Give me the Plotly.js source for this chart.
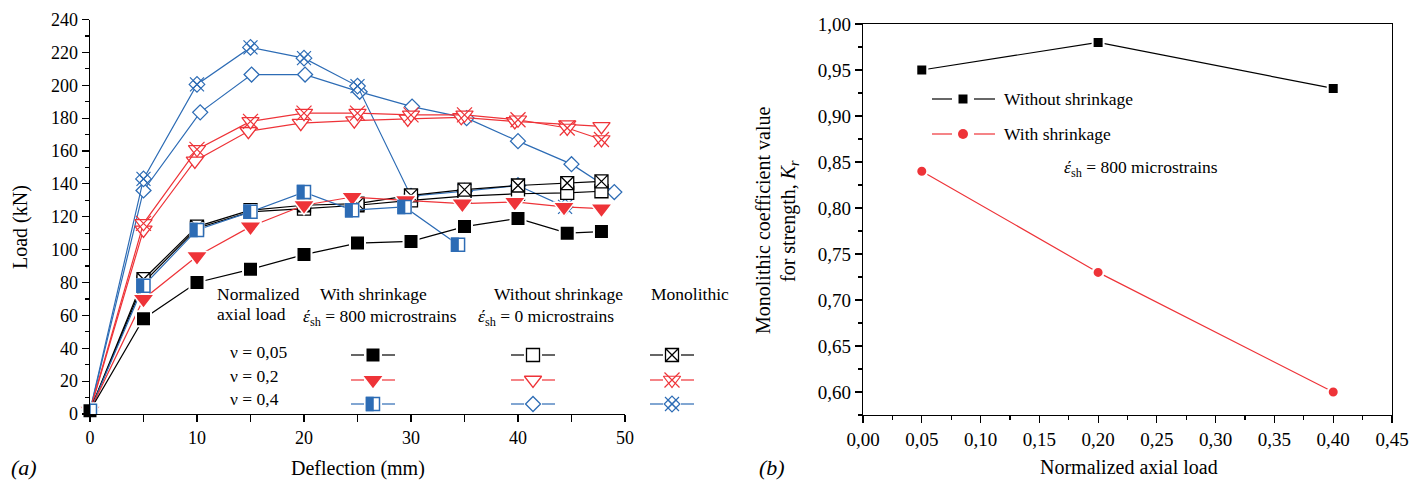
<!DOCTYPE html>
<html><head><meta charset="utf-8">
<script src="https://cdn.plot.ly/plotly-3.0.1.min.js"></script>
<style>html,body{margin:0;padding:0;background:#fff}</style>
</head><body><div id="chart" style="width:1425px;height:484px"></div>
<script>
// ---------- Data (a) Load vs deflection ----------
const withShr005X = [0, 5, 10, 15, 20, 25, 30, 35, 40, 44.6, 47.8];
const withShr005Y = [2, 58, 80, 88, 97, 104, 105, 114, 119, 110, 111];
const withShr02X  = [0, 5, 10, 15, 20, 24.5, 29.5, 34.8, 39.7, 44.3, 47.8];
const withShr02Y  = [2, 70, 96, 114, 127, 132, 130, 128, 129, 126, 125];
const withShr04X  = [0, 5, 10, 15, 20, 24.5, 29.4, 34.4];
const withShr04Y  = [2, 78, 112, 123, 135, 124, 126, 103];

const noShr005X = [0, 5, 10, 15, 20, 25, 30, 35, 40, 44.6, 47.8];
const noShr005Y = [2, 80, 113, 123, 125, 127, 130, 132.5, 134, 134.5, 135.5];
const noShr02X  = [0, 5, 9.8, 14.8, 19.7, 24.7, 29.7, 34.7, 39.7, 44.6, 47.8];
const noShr02Y  = [2, 112, 154, 172, 177, 178.5, 179.5, 180.5, 178, 176, 175];
const noShr04X  = [0, 5, 10.3, 15.1, 20.1, 25.2, 30.1, 35.2, 40, 45, 49];
const noShr04Y  = [2, 136, 183.5, 206.5, 206.5, 196, 187, 180, 166, 152, 135];

const mono005X = [0, 5, 10, 15, 20, 25, 30, 35, 40, 44.6, 47.8];
const mono005Y = [2, 82, 114, 124, 127, 128, 133, 136.5, 139, 140.5, 141.5];
const mono02X  = [0, 5, 10, 15, 20, 25, 30, 35, 40, 44.6, 47.8];
const mono02Y  = [2, 116, 161, 178, 183, 183, 182, 182, 179, 174, 167];
const mono04X  = [0, 5, 10, 15, 20, 25, 30, 35, 40, 44.4];
const mono04Y  = [2, 143, 200.5, 223, 216.5, 199.5, 132.5, 135.5, 139, 126];

// ---------- Data (b) Monolithic coefficient ----------
const axialLoad = [0.05, 0.20, 0.40];
const krWithout = [0.95, 0.98, 0.93];
const krWith    = [0.84, 0.73, 0.60];

const BLACK = '#000000', RED = '#ee3338', BLUE = '#2d6cb5';
const FONT = 'Liberation Serif';
const TXT = '#000';

const traces = [];
const shapes = [];
const annotations = [];

function line(x, y, color, marker, xa, ya) {
  traces.push({x, y, xaxis: xa || 'x', yaxis: ya || 'y', type: 'scatter', mode: marker ? 'lines+markers' : 'lines',
    line: {color, width: 1.2}, marker: marker, showlegend: false, hoverinfo: 'skip', cliponaxis: false});
}
function marks(x, y, marker, xa, ya) {
  traces.push({x, y, xaxis: xa || 'x', yaxis: ya || 'y', type: 'scatter', mode: 'markers',
    marker, showlegend: false, hoverinfo: 'skip', cliponaxis: false});
}
const mk = {
  blackSq:  {symbol: 'square', size: 15, color: BLACK, line: {color: '#fff', width: 2}},
  redTri:   {symbol: 'triangle-down', size: 19, color: RED, line: {color: '#fff', width: 1.5}},
  openSq:   {symbol: 'square', size: 13, color: '#fff', line: {color: BLACK, width: 1.3}},
  openTri:  {symbol: 'triangle-down', size: 15, color: '#fff', line: {color: RED, width: 1.3}},
  openDia:  {symbol: 'diamond', size: 11.5, color: '#fff', line: {color: BLUE, width: 1.3}},
  xSq:      {symbol: 'square-x', size: 13, color: '#fff', line: {color: BLACK, width: 1.3}},
  xTri:     {symbol: 'triangle-down', size: 15, color: '#fff', line: {color: RED, width: 1.2}},
  xTri2:    {symbol: 'x-thin-open', size: 15, color: RED, line: {color: RED, width: 1.2}},
  xDia:     {symbol: 'diamond-x', size: 12, color: '#fff', line: {color: BLUE, width: 1.2}},
  xDia2:    {symbol: 'x-thin-open', size: 14, color: BLUE, line: {color: BLUE, width: 1.2}},
  halfSq:   {symbol: 'square', size: 14, color: '#fff', line: {color: '#fff', width: 1}}
};
function halfSquare(x, y, xref, yref, pixelMode) {
  const h = 6.5;
  if (pixelMode) {
    shapes.push({type: 'rect', xref, yref, xsizemode: 'pixel', ysizemode: 'pixel', xanchor: x, yanchor: y,
      x0: -h, x1: h, y0: -h, y1: h, fillcolor: '#fff', line: {color: BLUE, width: 1.5}});
    shapes.push({type: 'rect', xref, yref, xsizemode: 'pixel', ysizemode: 'pixel', xanchor: x, yanchor: y,
      x0: -h, x1: 0, y0: -h, y1: h, fillcolor: BLUE, line: {color: BLUE, width: 1.5}});
  } else {
    shapes.push({type: 'rect', xref, yref, x0: x - h, x1: x + h, y0: y - h, y1: y + h,
      fillcolor: '#fff', line: {color: BLUE, width: 1.5}});
    shapes.push({type: 'rect', xref, yref, x0: x - h, x1: x, y0: y - h, y1: y + h,
      fillcolor: BLUE, line: {color: BLUE, width: 1.5}});
  }
}

// Chart (a) series
line(noShr04X, noShr04Y, BLUE, mk.openDia);
line(mono04X, mono04Y, BLUE, mk.xDia); marks(mono04X, mono04Y, mk.xDia2);
line(noShr02X, noShr02Y, RED, mk.openTri);
line(mono02X, mono02Y, RED, mk.xTri); marks(mono02X, mono02Y, mk.xTri2);
line(noShr005X, noShr005Y, BLACK, mk.openSq);
line(mono005X, mono005Y, BLACK, mk.xSq);
line(withShr04X, withShr04Y, BLUE, mk.halfSq);
withShr04X.forEach((x, i) => halfSquare(x, withShr04Y[i], 'x', 'y', true));
line(withShr02X, withShr02Y, RED, mk.redTri);
line(withShr005X, withShr005Y, BLACK, mk.blackSq);

// Chart (b)
line(axialLoad, krWithout, BLACK, {symbol: 'square', size: 11, color: BLACK, line: {color: '#fff', width: 2}}, 'x2', 'y2');
line(axialLoad, krWith, RED, {symbol: 'circle', size: 11, color: RED, line: {color: '#fff', width: 2}}, 'x2', 'y2');

// ---------- Legend samples (pixel overlay axes x3/y3) ----------
function sample(cx, cy, color, marker, half) {
  traces.push({x: [cx - 22, cx - 9], y: [cy, cy], xaxis: 'x3', yaxis: 'y3', mode: 'lines',
    line: {color, width: 1.2}, showlegend: false, hoverinfo: 'skip'});
  traces.push({x: [cx + 9, cx + 22], y: [cy, cy], xaxis: 'x3', yaxis: 'y3', mode: 'lines',
    line: {color, width: 1.2}, showlegend: false, hoverinfo: 'skip'});
  if (marker) {
    (Array.isArray(marker) ? marker : [marker]).forEach(m =>
      traces.push({x: [cx], y: [cy], xaxis: 'x3', yaxis: 'y3', mode: 'markers', marker: m,
        showlegend: false, hoverinfo: 'skip'}));
  }
  if (half) halfSquare(cx, cy, 'x3', 'y3', false);
}
const rowsY = [355, 380, 404];
sample(373, rowsY[0], BLACK, mk.blackSq);
sample(373, rowsY[1], RED, mk.redTri);
sample(373, rowsY[2], BLUE, null, true);
sample(533, rowsY[0], BLACK, mk.openSq);
sample(533, rowsY[1], RED, mk.openTri);
sample(533, rowsY[2], BLUE, mk.openDia);
sample(672, rowsY[0], BLACK, mk.xSq);
sample(672, rowsY[1], RED, [mk.xTri, mk.xTri2]);
sample(672, rowsY[2], BLUE, [mk.xDia, mk.xDia2]);

// Right chart legend
function sampleB(cx, cy, color, marker) {
  traces.push({x: [cx - 31, cx - 11], y: [cy, cy], xaxis: 'x3', yaxis: 'y3', mode: 'lines',
    line: {color, width: 1.2}, showlegend: false, hoverinfo: 'skip'});
  traces.push({x: [cx + 11, cx + 32], y: [cy, cy], xaxis: 'x3', yaxis: 'y3', mode: 'lines',
    line: {color, width: 1.2}, showlegend: false, hoverinfo: 'skip'});
  traces.push({x: [cx], y: [cy], xaxis: 'x3', yaxis: 'y3', mode: 'markers', marker,
    showlegend: false, hoverinfo: 'skip'});
}
sampleB(963, 99, BLACK, {symbol: 'square', size: 9, color: BLACK});
sampleB(963, 134, RED, {symbol: 'circle', size: 10, color: RED});

// ---------- Text ----------
function txt(text, x, y, opts) {
  annotations.push(Object.assign({text, x, y, xref: 'x3', yref: 'y3', showarrow: false,
    xanchor: 'center', yanchor: 'middle', font: {family: FONT, size: 17.5, color: TXT}}, opts || {}));
}
const big = {family: FONT, size: 20, color: TXT};
const EPS = '<i>έ</i><sub>sh</sub>';
txt('Normalized', 215, 294, {xanchor: 'left'});
txt('axial load', 215, 314, {xanchor: 'left'});
txt('With shrinkage', 373, 294);
txt(EPS + ' = 800 microstrains', 380, 317);
txt('Without shrinkage', 558, 294);
txt(EPS + ' = 0 microstrains', 546, 317);
txt('Monolithic', 690, 294);
txt('ν = 0,05', 228, 352, {xanchor: 'left'});
txt('ν = 0,2', 228, 376, {xanchor: 'left'});
txt('ν = 0,4', 228, 399, {xanchor: 'left'});
txt('Without shrinkage', 1002, 99, {xanchor: 'left'});
txt('With shrinkage', 1002, 134, {xanchor: 'left'});
txt(EPS + ' = 800 microstrains', 1062, 168, {xanchor: 'left'});
txt('<i>(a)</i>', 9, 467, {xanchor: 'left', font: {family: FONT, size: 22, color: TXT}});
txt('<i>(b)</i>', 757, 467, {xanchor: 'left', font: {family: FONT, size: 22, color: TXT}});
txt('Load (kN)', 20, 227, {textangle: -90, font: big});
txt('Deflection (mm)', 358, 468, {font: big});
txt('Normalized axial load', 1129, 467, {font: big});
txt('Monolithic coefficient value', 763, 221, {textangle: -90, font: big});
txt('for strength, <i>K<sub>r</sub></i>', 789, 221, {textangle: -90, font: big});

const axBase = {showgrid: false, zeroline: false, showline: true, linecolor: BLACK, linewidth: 1.3,
  ticks: 'outside', ticklen: 7, tickwidth: 1.2, tickcolor: BLACK, fixedrange: true};

const layout = {
  width: 1425, height: 484,
  margin: {l: 0, r: 0, t: 0, b: 0},
  paper_bgcolor: '#fff', plot_bgcolor: 'rgba(0,0,0,0)',
  font: {family: FONT, size: 17, color: TXT},
  separators: ', ',
  showlegend: false,
  xaxis: Object.assign({}, axBase, {domain: [90 / 1425, 625 / 1425], range: [0, 50], anchor: 'y',
    tickfont: {family: FONT, size: 18, color: TXT},
    dtick: 10, tick0: 0, minor: {dtick: 5, ticks: 'outside', ticklen: 7, tickcolor: BLACK, tickwidth: 1.2}}),
  yaxis: Object.assign({}, axBase, {domain: [70 / 484, 464.5 / 484], range: [0, 240], anchor: 'x',
    tickfont: {family: FONT, size: 18, color: TXT},
    dtick: 20, tick0: 0, minor: {dtick: 10, ticks: 'outside', ticklen: 4, tickcolor: BLACK, tickwidth: 1.2}}),
  xaxis2: Object.assign({}, axBase, {domain: [863 / 1425, 1392 / 1425], range: [0, 0.45], anchor: 'y2',
    tickfont: {family: FONT, size: 19, color: TXT},
    dtick: 0.05, tick0: 0, tickformat: '.2f', mirror: true,
    minor: {dtick: 0.025, ticks: 'outside', ticklen: 4, tickcolor: BLACK, tickwidth: 1.2}}),
  yaxis2: Object.assign({}, axBase, {domain: [69 / 484, 460 / 484], range: [0.575, 1.0], anchor: 'x2',
    tickfont: {family: FONT, size: 19, color: TXT},
    dtick: 0.05, tick0: 0, tickformat: '.2f', mirror: true,
    minor: {dtick: 0.025, ticks: 'outside', ticklen: 4, tickcolor: BLACK, tickwidth: 1.2}}),
  xaxis3: {domain: [0, 1], range: [0, 1425], visible: false, anchor: 'y3', fixedrange: true},
  yaxis3: {domain: [0, 1], range: [484, 0], visible: false, anchor: 'x3', fixedrange: true},
  shapes, annotations
};

Plotly.newPlot('chart', traces, layout, {staticPlot: true, displayModeBar: false});
</script>
</body></html>
